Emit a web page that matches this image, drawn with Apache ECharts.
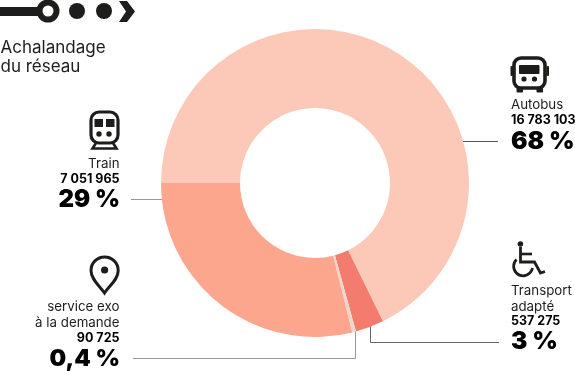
<!DOCTYPE html>
<html>
<head>
<meta charset="utf-8">
<style>
  html, body { margin: 0; padding: 0; background: #fff; }
  #chart { width: 575px; height: 371px; }
</style>
<script src="https://cdn.jsdelivr.net/npm/echarts@6/dist/echarts.min.js"></script>
</head>
<body>
<div id="chart"></div>
<script>
var categories = ["Autobus", "Transport adapté", "service exo à la demande", "Train"];
var shares = [68, 3, 0.4, 29];
var riders = ["16 783 103", "537 275", "90 725", "7 051 965"];
var shareLabels = ["68 %", "3 %", "0,4 %", "29 %"];
var sliceColors = ["#fcc9b9", "#f47c6e", "#e8d9cc", "#fca68d"];
var titleLines = ["Achalandage", "du réseau"];

var INK = "#1d1d1b";
var FONT = "Inter, 'Open Sans', sans-serif";
var NAME_SIZE = 13.3;
var COUNT_SIZE = 12.5;
var SHARE_SIZE = 24.5;

// the graphic component has no path type, so each svg path gets its own shape
var shapeCount = 0;
function svg(d, style) {
  var name = "svgShape" + shapeCount++;
  echarts.graphic.registerShape(name, echarts.graphic.extendPath(d, {}));
  return { type: name, silent: true, style: style };
}
function txt(x, y, text, size, weight, align) {
  return {
    type: "text", x: x, y: y, silent: true,
    style: { text: text, fill: weight > 500 ? "#000" : INK, font: weight + " " + size + "px " + FONT, textAlign: align, textVerticalAlign: "middle" }
  };
}
function line(d, color) {
  return svg(d, { fill: "none", stroke: color, lineWidth: 1 });
}
function stroke(d, w) {
  return svg(d, { fill: "none", stroke: INK, lineWidth: w });
}
function solid(d) {
  return svg(d, { fill: INK });
}
function dot(cx, cy, r) {
  return { type: "circle", silent: true, shape: { cx: cx, cy: cy, r: r }, style: { fill: INK } };
}
function box(x, y, w, h, r) {
  return { type: "rect", silent: true, shape: { x: x, y: y, width: w, height: h, r: r || 0 }, style: { fill: INK } };
}

var els = [];

// header: metro line motif
els.push(box(0, 7, 40, 9));
els.push({ type: "circle", silent: true, shape: { cx: 48, cy: 11, r: 8.5 }, style: { fill: "#fff", stroke: INK, lineWidth: 6 } });
els.push(dot(77, 11, 8), dot(104, 11, 8));
els.push(solid("M119 1 H127 L135 11.5 L127 22 H119 L126 11.5 Z"));
els.push(txt(0.5, 48, titleLines[0], 17, 400, "left"), txt(0.5, 67, titleLines[1], 17, 400, "left"));

// labels
els.push(txt(511, 105, "Autobus", NAME_SIZE, 400, "left"));
els.push(txt(511, 120, riders[0], COUNT_SIZE, 700, "left"));
els.push(txt(511, 142, shareLabels[0], SHARE_SIZE, 900, "left"));

els.push(txt(511, 291, "Transport", NAME_SIZE, 400, "left"));
els.push(txt(511, 307, "adapté", NAME_SIZE, 400, "left"));
els.push(txt(511, 321, riders[1], COUNT_SIZE, 700, "left"));
els.push(txt(511, 342, shareLabels[1], SHARE_SIZE, 900, "left"));

els.push(txt(119.5, 307, "service exo", NAME_SIZE, 400, "right"));
els.push(txt(119.5, 323, "à la demande", NAME_SIZE, 400, "right"));
els.push(txt(119.5, 338, riders[2], COUNT_SIZE, 700, "right"));
els.push(txt(120, 359, shareLabels[2], 23.5, 900, "right"));

els.push(txt(119.5, 164, "Train", NAME_SIZE, 400, "right"));
els.push(txt(119.5, 179, riders[3], COUNT_SIZE, 700, "right"));
els.push(txt(120, 200, shareLabels[3], 24, 900, "right"));

// leader lines
els.push(line("M463 141.5 H498", "#555"));
els.push(line("M131 199.5 H163", "#999"));
els.push(line("M133 358.5 H355.5 V331", "#999"));
els.push(line("M370.5 326 V342.5 H499", "#666"));

// train icon
els.push({ type: "rect", silent: true, shape: { x: 91, y: 112, width: 27, height: 31, r: 8 }, style: { fill: "none", stroke: INK, lineWidth: 3.2 } });
els.push(box(94.5, 119, 8.5, 8), box(106, 119, 8.5, 8));
els.push(dot(99, 134, 2.7), dot(109, 134, 2.7));
els.push(stroke("M96 143 L92.5 148.5 H116.5 L113 143", 2.6));

// bus icon
els.push({ type: "rect", silent: true, shape: { x: 514, y: 58, width: 31, height: 30, r: 7 }, style: { fill: "none", stroke: INK, lineWidth: 3.6 } });
els.push(box(519, 65, 20.5, 9, 1));
els.push(dot(524, 79, 2.6), dot(534.5, 79, 2.6));
els.push(box(510.5, 66, 2.5, 10, 1), box(546.5, 66, 2.5, 10, 1));
els.push(box(516.5, 88, 6.5, 4.5, 1), box(536.5, 88, 6.5, 4.5, 1));

// pin icon
els.push(stroke("M104.5 293 C100 286 91 280 91 270.5 A13.6 13.6 0 1 1 118.2 270.5 C118.2 280 109 286 104.5 293 Z", 3));
els.push(dot(104.6, 270, 3.6));

// wheelchair icon
els.push(dot(520.4, 244, 2.8));
els.push(stroke("M520.5 247 V262 H534.5 L540.5 273 L545 271.5", 2.8));
els.push(stroke("M521 254 H532", 2.6));
els.push(stroke("M516.5 259.5 A9.5 9.5 0 1 0 532.5 268", 2.8));

var chart = echarts.init(document.getElementById("chart"), null, { renderer: "canvas" });
chart.setOption({
  animation: false,
  backgroundColor: "#fff",
  graphic: { elements: els },
  series: [{
    type: "pie",
    silent: true,
    center: [315, 183],
    radius: [75, 154],
    startAngle: 180,
    clockwise: true,
    avoidLabelOverlap: false,
    label: { show: false },
    labelLine: { show: false },
    itemStyle: { borderWidth: 0 },
    data: categories.map(function (c, i) {
      return { name: c, value: shares[i], itemStyle: { color: sliceColors[i] } };
    })
  }]
});
</script>
</body>
</html>
